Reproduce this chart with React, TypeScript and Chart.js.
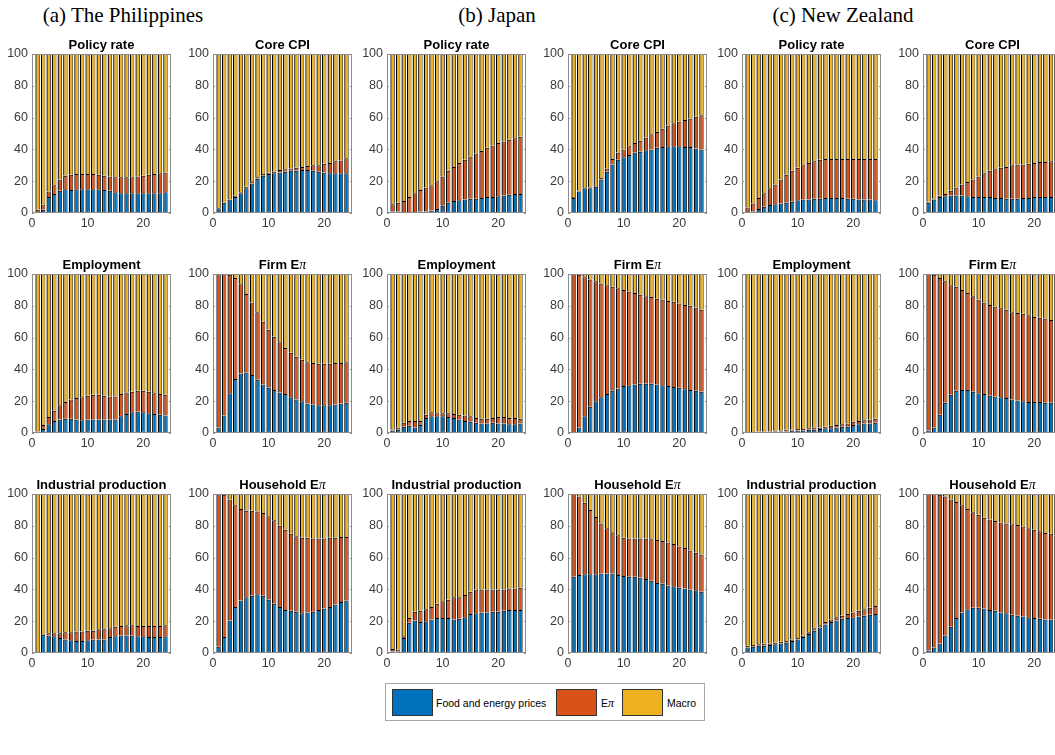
import React, { useEffect, useRef } from "react";
import { Chart, registerables } from "chart.js";

Chart.register(...registerables);

// ---------- data ----------
const periods = [1, 2, 3, 4, 5, 6, 7, 8, 9, 10, 11, 12, 13, 14, 15, 16, 17, 18, 19, 20, 21, 22, 23, 24];
const xTickValues = [0, 10, 20];
const yTickValues = [0, 20, 40, 60, 80, 100];

const countryTitles = ["(a) The Philippines", "(b) Japan", "(c) New Zealand"];
const variableTitles = ["Policy rate", "Core CPI", "Employment", "Firm E", "Industrial production", "Household E"];
const variableHasPi = [false, false, false, true, false, true];
const seriesNames = ["Food and energy prices", "E", "Macro"];
const seriesColors = ["#0072BD", "#D95319", "#EDB120"];

// share of food & energy prices (bottom) and food+Eπ cumulative (top of orange)
const phPolicyFood = [0, 2, 10, 12, 14, 15, 14.5, 15, 15, 15, 15, 15, 14.5, 14, 13, 12.5, 12.5, 12.5, 12.5, 12.5, 12.5, 12.5, 12.5, 13];
const phPolicyTop = [2, 5.3, 13.5, 17.5, 21, 23.5, 24, 24.5, 24.5, 24.5, 24.5, 24, 23.5, 23, 22.5, 22.5, 22.5, 22.5, 23, 23.5, 24, 24.5, 25, 25.5];
const phCpiFood = [3, 6.5, 8.5, 10, 12.5, 15.5, 18.5, 21.5, 23.5, 24.5, 25, 25.5, 26, 26.5, 26.5, 27, 27, 26.5, 26, 25.5, 25, 25, 25, 25];
const phCpiTop = [3, 6.5, 8.5, 11, 13, 16.5, 20, 22.5, 24.5, 25.5, 26, 27, 27.5, 28, 28.5, 29, 29.5, 30, 30, 31, 31.5, 32.5, 33, 34.5];
const phEmpFood = [0, 2.5, 5.5, 7.5, 8.5, 9, 9, 8.5, 8, 8.5, 8.5, 8.5, 8.5, 8.5, 8.5, 10.5, 12, 13, 13.5, 13, 12.5, 12, 11.5, 11];
const phEmpTop = [1, 5, 10, 14, 17.5, 19.5, 21, 22, 22.5, 23.5, 24, 24, 23.5, 23, 23, 24.5, 25.5, 26, 26.5, 26.5, 26, 25, 24.5, 24];
const phFirmFood = [3.5, 11, 25, 34, 37.5, 38, 36.5, 33.5, 30.5, 28.5, 27, 25.5, 24.5, 22.5, 21, 20, 18.5, 18, 17.5, 17.5, 17.5, 18, 18.5, 19];
const phFirmTop = [100, 100, 99.5, 97.5, 93.5, 87.5, 82, 76, 70, 65, 60.5, 57, 53.5, 50.5, 48, 46, 44.5, 44, 43.5, 43.5, 43.5, 44, 44, 44.5];
const phIpFood = [0, 11.5, 11, 10.5, 9.5, 8.5, 8, 7.5, 7.5, 8, 8.5, 8.5, 8.5, 10, 10.5, 11, 11, 11, 10.5, 10.5, 10, 10, 10, 10.5];
const phIpTop = [0, 12, 12.5, 12.5, 12.5, 13, 13, 13.5, 13.5, 14, 14, 15, 15, 15.5, 16.5, 17, 17.5, 17.5, 17, 17, 17, 17, 17, 17.5];
const phHhFood = [4, 10, 20.5, 29, 33, 35, 36, 37, 36, 33.5, 31, 29, 27, 26.5, 26, 25, 25.5, 26, 27, 28, 29, 30.5, 32, 33];
const phHhTop = [100, 99.5, 96.5, 93, 90.5, 89.5, 89.5, 89, 88, 86, 83.5, 80, 77.5, 75, 73.5, 72.5, 72.5, 72, 72, 72, 72.5, 72.5, 73, 73];

const jpPolicyFood = [1, 1, 0.5, 0.5, 0.5, 1, 1, 1.5, 2.5, 4.5, 6.5, 7.5, 8, 8.5, 9, 9, 9.5, 10, 10, 10.5, 11, 11.5, 12, 12];
const jpPolicyTop = [5.5, 6.5, 7.5, 10, 12.5, 14.5, 16, 17.5, 20, 23, 26.5, 29, 31.5, 33.5, 35.5, 37.5, 39, 41, 42.5, 44, 45, 46, 47, 48];
const jpCpiFood = [9.5, 13.5, 15.5, 15.5, 16.5, 21, 26, 30.5, 33.5, 35, 36.5, 38, 38.5, 39.5, 40, 41, 41.5, 42, 42, 42, 41.5, 41.5, 40.5, 40];
const jpCpiTop = [10, 14, 15.5, 16, 17, 22, 28, 34, 38, 40, 42, 44, 45.5, 47.5, 49.5, 51, 53, 55, 56.5, 57.5, 58.5, 59.5, 60.5, 61.5];
const jpEmpFood = [1.5, 2, 4, 4.5, 3.5, 5, 9.5, 10.5, 10.5, 10.5, 10, 9.5, 8.5, 7.5, 7, 6.5, 6, 6, 6.5, 6, 6, 5.5, 5.5, 6];
const jpEmpTop = [2, 3.5, 6.5, 7.5, 7.5, 7.5, 11.5, 13, 12.5, 12.5, 12.5, 12, 11.5, 11, 10.5, 9.5, 9, 9, 9.5, 10, 10, 9.5, 9.5, 9];
const jpFirmFood = [0, 3.5, 10.5, 16.5, 20, 22.5, 24.5, 26.5, 28, 29.5, 30, 30.5, 31, 31, 31, 30.5, 30, 29.5, 29, 28.5, 27.5, 27, 26.5, 26];
const jpFirmTop = [100, 99.5, 98, 96.5, 95.5, 94, 93, 92, 91, 90, 89, 88, 87, 86, 85.5, 84.5, 84, 83, 82.5, 81.5, 80.5, 80, 79, 77.5];
const jpIpFood = [1, 1, 9.5, 19, 20.5, 19.5, 20, 21, 22, 22, 22, 21, 21.5, 22.5, 24.5, 25, 25.5, 25.5, 26, 26, 26.5, 27, 27, 27];
const jpIpTop = [2.5, 2, 10.5, 22, 26, 26.5, 27.5, 29, 31, 32.5, 33.5, 35, 35, 36.5, 38.5, 40, 40, 40, 40, 40, 40, 40.5, 40.5, 41];
const jpHhFood = [48, 49, 49.5, 49.5, 49.5, 50, 50, 50, 49, 48.5, 48, 48, 47.5, 46.5, 45.5, 44, 43.5, 42.5, 42, 41, 40.5, 40, 39.5, 38.5];
const jpHhTop = [100, 98.5, 94.5, 90, 85.5, 81.5, 78.5, 76, 74, 72.5, 72, 72, 72, 72, 71.5, 71, 70.5, 69.5, 68.5, 67, 66, 64.5, 63, 62];

const nzPolicyFood = [0, 1, 2.5, 4, 5, 5.5, 6, 6.5, 7, 8, 8.5, 8.5, 9, 9, 9.5, 9.5, 9.5, 9.5, 9, 9, 8.5, 8.5, 8.5, 8];
const nzPolicyTop = [3.5, 6, 9.5, 12.5, 15.5, 18, 21, 24, 26.5, 28.5, 30, 31.5, 32.5, 33.5, 34, 34, 34, 34, 34, 34, 34, 34, 34, 34];
const nzCpiFood = [6.5, 8.5, 10, 10.5, 11, 11, 11, 10.5, 10, 10, 10, 10, 9.5, 9.5, 9, 9, 9, 9.5, 9.5, 10, 10, 10, 10, 10.5];
const nzCpiTop = [7, 9, 11, 12, 14, 16, 18, 19.5, 21, 23, 25, 26.5, 27.5, 28.5, 29, 30, 30.5, 30.5, 31, 31.5, 32, 32, 32.5, 32.5];
const nzEmpFood = [0, 0, 0.5, 0.5, 0.5, 1, 1, 1, 1.5, 1.5, 1.5, 2, 2, 2.5, 3, 3, 3.5, 4, 4, 5, 5.5, 6, 6, 6.5];
const nzEmpTop = [0.5, 0.5, 1, 1, 1, 1.5, 1.5, 2, 2, 2.5, 2.5, 3, 3.5, 3.5, 4, 4.5, 5, 5.5, 6, 7, 7.5, 8, 8.5, 9];
const nzFirmFood = [1.5, 3.5, 11.5, 19, 24, 26.5, 27, 27, 26, 25, 24.5, 23.5, 23, 22.5, 22, 21, 20.5, 20, 19.5, 19.5, 19.5, 19, 19, 19];
const nzFirmTop = [100, 99.5, 97.5, 95.5, 93, 92, 90, 88, 86, 84, 82, 80.5, 79.5, 78.5, 77.5, 76, 75.5, 75, 74, 73, 72.5, 72, 71, 70.5];
const nzIpFood = [3.5, 4, 4.5, 4.5, 5, 5.5, 6, 6.5, 7.5, 8.5, 10, 12, 14, 16, 18, 19.5, 20.5, 21.5, 22, 22.5, 23, 23.5, 24, 24.5];
const nzIpTop = [4.5, 5, 5.5, 6, 6, 6.5, 7, 7.5, 8.5, 9.5, 11, 13, 15.5, 17.5, 19.5, 21, 22.5, 23.5, 24.5, 25.5, 26.5, 27.5, 28.5, 29.5];
const nzHhFood = [1.5, 3.5, 6, 11, 16.5, 22, 25.5, 27.5, 28.5, 28.5, 28, 27, 26.5, 25.5, 25, 24, 23.5, 23, 22.5, 22, 21.5, 21, 21, 21];
const nzHhTop = [100, 100, 99.5, 98.5, 96.5, 95, 93, 90.5, 88.5, 87, 85, 84, 83, 82, 81.5, 81, 80.5, 79.5, 78.5, 77.5, 76.5, 75.5, 75, 74];

const countryPanels = [
  [[phPolicyFood, phPolicyTop], [phCpiFood, phCpiTop], [phEmpFood, phEmpTop], [phFirmFood, phFirmTop], [phIpFood, phIpTop], [phHhFood, phHhTop]],
  [[jpPolicyFood, jpPolicyTop], [jpCpiFood, jpCpiTop], [jpEmpFood, jpEmpTop], [jpFirmFood, jpFirmTop], [jpIpFood, jpIpTop], [jpHhFood, jpHhTop]],
  [[nzPolicyFood, nzPolicyTop], [nzCpiFood, nzCpiTop], [nzEmpFood, nzEmpTop], [nzFirmFood, nzFirmTop], [nzIpFood, nzIpTop], [nzHhFood, nzHhTop]],
];

// ---------- layout ----------
const colLefts = [32, 213, 387, 568, 742, 923];
const rowTops = [54, 274, 494];
const PLOT_W = 139;
const PLOT_H = 159;
const PAD_L = 36;
const PAD_T = 28;
const PAD_R = 6;
const PAD_B = 22;
const SANS = "'Liberation Sans', Arial, Helvetica, sans-serif";
const SERIF = "'Liberation Serif', 'Times New Roman', serif";

type PanelProps = { food: number[]; top: number[]; title: string; pi: boolean; left: number; topPx: number };

function Panel({ food, top, title, pi, left, topPx }: PanelProps) {
  const ref = useRef<HTMLCanvasElement | null>(null);
  useEffect(() => {
    if (!ref.current) return;
    const boxPlugin = {
      id: "boxAndTitle",
      afterDraw(chart: any) {
        const { ctx, chartArea } = chart;
        const { left: l, top: t, right: r, bottom: b } = chartArea;
        ctx.save();
        ctx.strokeStyle = "#8c8c8c";
        ctx.lineWidth = 1;
        ctx.strokeRect(Math.round(l) + 0.5, Math.round(t) + 0.5, Math.round(r - l) - 1, Math.round(b - t) - 1);
        const ys = chart.scales.y;
        const xs = chart.scales.x;
        ctx.beginPath();
        yTickValues.forEach((v) => {
          const py = Math.round(ys.getPixelForValue(v)) + 0.5;
          ctx.moveTo(l, py);
          ctx.lineTo(l + 2, py);
          ctx.moveTo(r - 2, py);
          ctx.lineTo(r, py);
        });
        xTickValues.forEach((v) => {
          const px = Math.round(xs.getPixelForValue(v)) + 0.5;
          ctx.moveTo(px, b);
          ctx.lineTo(px, b - 2);
          ctx.moveTo(px, t);
          ctx.lineTo(px, t + 2);
        });
        ctx.stroke();
        // title
        const boldFont = `bold 13px ${SANS}`;
        const piFont = `italic 14px ${SERIF}`;
        ctx.font = boldFont;
        const w1 = ctx.measureText(title).width;
        let w2 = 0;
        if (pi) {
          ctx.font = piFont;
          w2 = ctx.measureText("\u03C0").width;
        }
        const cx = (l + r) / 2;
        const x0 = cx - (w1 + w2) / 2;
        const by = t - 5;
        ctx.fillStyle = "#000";
        ctx.textBaseline = "alphabetic";
        ctx.textAlign = "left";
        ctx.font = boldFont;
        ctx.fillText(title, x0, by);
        if (pi) {
          ctx.font = piFont;
          ctx.fillText("\u03C0", x0 + w1, by);
        }
        ctx.restore();
      },
    };
    const eShare = top.map((v, i) => v - food[i]);
    const macroShare = top.map((v) => 100 - v);
    const shares = [food, eShare, macroShare];
    const chart = new Chart(ref.current, {
      type: "bar",
      data: {
        datasets: shares.map((arr, k) => ({
          label: seriesNames[k],
          data: periods.map((p, i) => ({ x: p, y: arr[i] })),
          backgroundColor: seriesColors[k],
          borderColor: "#000000",
          borderWidth: { left: 1.3, right: 0.8, top: 1, bottom: 0 },
          borderSkipped: false,
          barPercentage: 0.8,
          categoryPercentage: 1,
        })),
      },
      options: {
        responsive: false,
        animation: false,
        events: [],
        layout: { padding: { top: PAD_T, right: PAD_R, left: 0, bottom: 0 } },
        plugins: { legend: { display: false }, tooltip: { enabled: false }, title: { display: false } },
        scales: {
          x: {
            type: "linear",
            stacked: true,
            min: 0,
            max: 25,
            offset: false,
            grid: { display: false, drawTicks: false },
            border: { display: false },
            ticks: { font: { family: SANS, size: 12.5 }, color: "#3a3a3a", padding: 3, maxRotation: 0, autoSkip: false },
            afterBuildTicks: (s: any) => {
              s.ticks = xTickValues.map((v) => ({ value: v }));
            },
            afterFit: (s: any) => {
              s.height = PAD_B;
            },
          },
          y: {
            type: "linear",
            stacked: true,
            min: 0,
            max: 100,
            grid: { display: false, drawTicks: false },
            border: { display: false },
            ticks: { font: { family: SANS, size: 12.5 }, color: "#3a3a3a", padding: 4, autoSkip: false },
            afterBuildTicks: (s: any) => {
              s.ticks = yTickValues.map((v) => ({ value: v }));
            },
            afterFit: (s: any) => {
              s.width = PAD_L;
            },
          },
        },
      } as any,
      plugins: [boxPlugin],
    });
    return () => chart.destroy();
  }, [food, top, title, pi]);
  const w = PAD_L + PLOT_W + PAD_R;
  const h = PAD_T + PLOT_H + PAD_B;
  return (
    <canvas
      ref={ref}
      width={w}
      height={h}
      style={{ position: "absolute", left: left - PAD_L, top: topPx - PAD_T, width: w, height: h }}
    />
  );
}

const countryCenters = [123, 497, 843];

export default function App() {
  const panels: React.ReactNode[] = [];
  countryPanels.forEach((vars, c) => {
    vars.forEach((pair, v) => {
      const row = Math.floor(v / 2);
      const col = c * 2 + (v % 2);
      panels.push(
        <Panel
          key={`${c}-${v}`}
          food={pair[0]}
          top={pair[1]}
          title={variableTitles[v]}
          pi={variableHasPi[v]}
          left={colLefts[col]}
          topPx={rowTops[row]}
        />
      );
    });
  });
  const legendItems = [
    { x: 392, tx: 436 },
    { x: 556, tx: 601 },
    { x: 622, tx: 667 },
  ];
  return (
    <div style={{ position: "fixed", left: 0, top: 0, width: 1055, height: 755, overflow: "hidden", background: "#fff" }}>
      {countryTitles.map((t, i) => (
        <div
          key={t}
          style={{
            position: "absolute",
            left: countryCenters[i] - 150,
            width: 300,
            top: 3,
            textAlign: "center",
            fontFamily: SERIF,
            fontSize: 21,
            lineHeight: "24px",
            color: "#000",
            whiteSpace: "nowrap",
          }}
        >
          {t}
        </div>
      ))}
      {panels}
      <div
        style={{
          position: "absolute",
          left: 385,
          top: 683,
          width: 320,
          height: 38,
          border: "1px solid #a6a6a6",
          boxSizing: "border-box",
          background: "#fff",
        }}
      />
      {legendItems.map((it, k) => (
        <React.Fragment key={k}>
          <div
            style={{
              position: "absolute",
              left: it.x,
              top: 689,
              width: 41,
              height: 27,
              background: seriesColors[k],
              border: "1px solid #333",
              boxSizing: "border-box",
            }}
          />
          <div
            style={{
              position: "absolute",
              left: it.tx,
              top: 695,
              fontFamily: SANS,
              fontSize: 10.5,
              lineHeight: "16px",
              color: "#000",
              whiteSpace: "nowrap",
            }}
          >
            {seriesNames[k]}
            {k === 1 ? <span style={{ fontFamily: SERIF, fontStyle: "italic", fontSize: 12 }}>{"\u03C0"}</span> : null}
          </div>
        </React.Fragment>
      ))}
    </div>
  );
}
